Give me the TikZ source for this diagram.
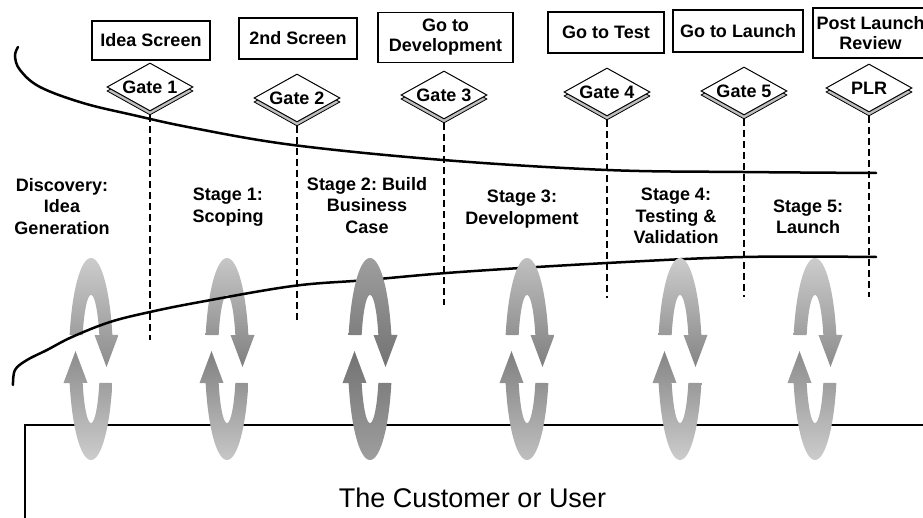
\documentclass[tikz,border=0pt]{standalone}
\usepackage{fontspec}
\setmainfont{Liberation Sans}
\usetikzlibrary{shapes.geometric}
\frenchspacing

\tikzset{
  lbl/.style={font=\fontsize{18}{21.5}\selectfont\bfseries, align=center, inner sep=0pt},
  topbox/.style={draw, line width=1.2pt, fill=white, inner sep=0pt, align=center,
                 font=\fontsize{18}{20}\selectfont\bfseries},
  gate/.style={diamond, draw, line width=1pt, fill=white, minimum width=86pt,
               minimum height=48pt, inner sep=0pt},
  gateshadow/.style={gate, fill=black!25, line width=0.8pt},
  gatetext/.style={font=\fontsize{18}{20}\selectfont\bfseries, inner sep=0pt},
  guide/.style={dash pattern=on 7pt off 4pt, line width=1.1pt},
  bound/.style={line width=2.5pt, line cap=round},
}

% one feedback loop: two curved arrows around an ellipse
% #1 centre x, #2 light tone (ends of the loop), #3 dark tone (sides)
\newcommand\cycleloop[3]{%
  \begin{scope}[shift={(#1,359)}]
    \shade[top color=#2, middle color=#3, bottom color=#3]
      plot[domain=193.75:346.25, samples=50] ({22*cos(\x)},{101*sin(\x)})
      -- (27.5,-24) -- (15.5,8) -- (3.5,-24)
      -- plot[domain=338:202, samples=40] ({9*cos(\x)},{64*sin(\x)}) -- cycle;
    \shade[top color=#3, middle color=#3, bottom color=#2]
      plot[domain=13.75:166.25, samples=50] ({22*cos(\x)},{101*sin(\x)})
      -- (-27.5,24) -- (-15.5,-8) -- (-3.5,24)
      -- plot[domain=158:22, samples=40] ({9*cos(\x)},{64*sin(\x)}) -- cycle;
  \end{scope}}

\begin{document}
\begin{tikzpicture}[x=1pt, y=-1pt]
  \useasboundingbox (0,0) rectangle (923,518);
  \clip (0,0) rectangle (923,518);

  % customer base
  \draw[line width=1.4pt] (25,530) -- (25,425) -- (935,425);
  \node[font=\fontsize{27}{30}\selectfont, anchor=base, inner sep=0pt] (cust) at (472.5,507) {The Customer or User};

  % loops behind the lower boundary
  \cycleloop{91}{black!20}{black!45}
  \cycleloop{227}{black!22}{black!50}

  % funnel boundaries
  \draw[bound] plot[smooth, tension=0.6] coordinates
    {(18,47) (15,56) (20,70) (40,87) (83,103) (133,115) (193,128) (293,145) (443,160) (607,170) (743,172) (876,173)};
  \draw[bound] plot[smooth, tension=0.6] coordinates
    {(13,385) (15,370) (27,360) (47,350) (72,337) (110,322) (150,312) (200,302) (293,286) (367,280) (460,272) (607,263) (743,257) (876,257)};

  % remaining loops
  \cycleloop{370}{black!38}{black!55}
  \cycleloop{527}{black!25}{black!50}
  \cycleloop{680}{black!20}{black!48}
  \cycleloop{815}{black!20}{black!45}

  % gate decisions
  \node[topbox, minimum width=118pt, minimum height=39pt] (b1) at (151,40.5) {Idea Screen};
  \node[topbox, minimum width=118pt, minimum height=41pt] (b2) at (298,38.5) {2nd Screen};
  \node[topbox, minimum width=135pt, minimum height=50pt] (b3) at (445.5,37.5) {Go to\\Development};
  \node[topbox, minimum width=116pt, minimum height=41pt] (b4) at (606,32.5) {Go to Test};
  \node[topbox, minimum width=130pt, minimum height=42pt] (b5) at (738,31) {Go to Launch};
  \node[topbox, minimum width=115pt, minimum height=50pt] (b6) at (870.5,33) {Post Launch\\Review};

  % end points of the gate guides
  \coordinate (e1) at (150,340);
  \coordinate (e2) at (297,323);
  \coordinate (e3) at (444,305);
  \coordinate (e4) at (607,298);
  \coordinate (e5) at (744,297);
  \coordinate (e6) at (869,297);

  % gates
  \foreach \n/\gx/\gy in {1/150/87, 2/297/98, 3/444/95, 4/607/92, 5/744/91, 6/869/88} {
    \node[gateshadow] (gs\n) at (\gx,\gy+4) {};
    \node[gate] (g\n) at (\gx,\gy) {};
    \draw[guide] (gs\n.south) -- (gs\n.south |- e\n);
  }
  \node[gatetext] at (g1) {Gate 1};
  \node[gatetext] at (g2) {Gate 2};
  \node[gatetext] at (g3) {Gate 3};
  \node[gatetext] at (g4) {Gate 4};
  \node[gatetext] at (g5) {Gate 5};
  \node[gatetext] at (g6) {PLR};

  % stages
  \node[lbl] (s0) at (62,206.5) {Discovery:\\Idea\\Generation};
  \node[lbl] (s1) at (228,207) {Stage 1:\\Scoping};
  \node[lbl] (s2) at (367,205.5) {Stage 2: Build\\Business\\Case};
  \node[lbl] (s3) at (522,209) {Stage 3:\\Development};
  \node[lbl] (s4) at (676,216) {Stage 4:\\Testing \&\\Validation};
  \node[lbl] (s5) at (808,217) {Stage 5:\\Launch};
\end{tikzpicture}
\end{document}
